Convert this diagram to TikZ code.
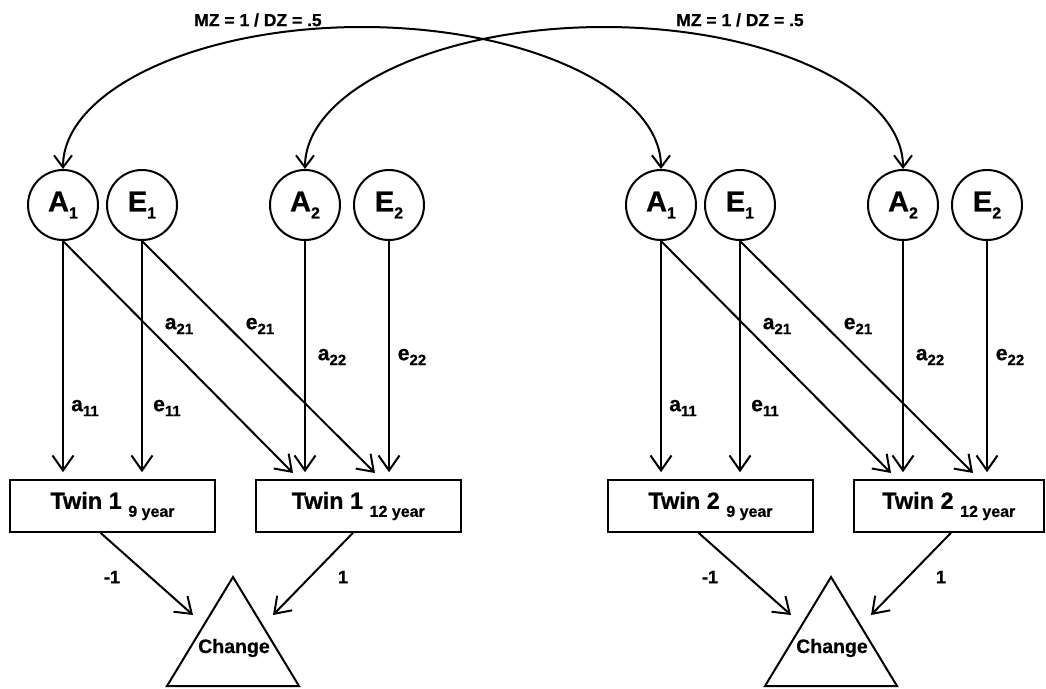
\documentclass[tikz,border=0pt]{standalone}
\usepackage{fontspec}
\setmainfont[BoldFeatures={FakeBold=0.6}]{Liberation Sans}
\usetikzlibrary{arrows.meta,calc}
\newcommand{\fs}[1]{\fontsize{#1}{#1}\selectfont}
\newcommand{\lowsub}[3]{\raisebox{-#1pt}{\fs{#2}#3}}
\tikzset{
  lat/.style={draw, circle, line width=2pt, minimum size=70pt, inner sep=0pt, font=\bfseries\fs{29}},
  obs/.style={draw, rectangle, line width=1.6pt, minimum height=52pt, inner sep=0pt, font=\bfseries\fs{23.5}},
  arr/.style={line width=2pt, -{Straight Barb[length=15pt,width=21pt,line width=2pt]}},
  dbl/.style={line width=2pt, {Straight Barb[length=12pt,width=18pt,line width=2pt]}-{Straight Barb[length=12pt,width=18pt,line width=2pt]}},
  lbl/.style={inner sep=0pt, font=\bfseries\fs{21}},
  num/.style={inner sep=0pt, font=\bfseries\fs{18}},
  top/.style={inner sep=0pt, font=\bfseries\fs{17.5}},
  chg/.style={inner sep=0pt, font=\bfseries\fs{19.5}},
  tri/.style={line width=2pt, line join=miter},
}
% #1 prefix, #2 xshift, #3 twin number, #4 width of second box
\newcommand{\twinhalf}[4]{%
\begin{scope}[xshift=#2pt]
  \node[lat] (#1A1) at (63,205) {A\lowsub{7}{16}{1}};
  \node[lat] (#1E1) at (142,205) {E\lowsub{7}{16}{1}};
  \node[lat] (#1A2) at (305,205) {A\lowsub{7}{16}{2}};
  \node[lat] (#1E2) at (389,205) {E\lowsub{7}{16}{2}};
  \node[obs, minimum width=205pt] (#1b1) at (112.5,506) {Twin #3 \lowsub{8}{16}{9 year}};
  \node[obs, minimum width=#4pt, anchor=west] (#1b2) at (255,506) {Twin #3 \lowsub{8}{16}{12 year}};
  \coordinate (#1ta) at (293,473);
  \coordinate (#1te) at (375,473);
  \draw[arr, shorten >=7pt] (#1A1.south) -- (#1A1.south |- #1b1.north);
  \draw[arr, shorten >=7pt] (#1E1.south) -- (#1E1.south |- #1b1.north);
  \draw[arr, shorten >=7pt] (#1A2.south) -- (#1A2.south |- #1b2.north);
  \draw[arr, shorten >=7pt] (#1E2.south) -- (#1E2.south |- #1b2.north);
  \draw[arr] (#1A1.south) -- (#1ta);
  \draw[arr] (#1E1.south) -- (#1te);
  \node[lbl] (#1la11) at (85,408) {a\lowsub{5}{15}{11}};
  \node[lbl] (#1le11) at (167,408) {e\lowsub{5}{15}{11}};
  \node[lbl] (#1la21) at (179,326) {a\lowsub{5}{15}{21}};
  \node[lbl] (#1le21) at (260,326) {e\lowsub{5}{15}{21}};
  \node[lbl] (#1la22) at (332,357) {a\lowsub{5}{15}{22}};
  \node[lbl] (#1le22) at (412,357) {e\lowsub{5}{15}{22}};
  \coordinate (#1tp) at (233,577);
  \coordinate (#1tl) at (167,686);
  \coordinate (#1tr) at (299,686);
  \draw[tri] (#1tp) -- (#1tl) -- (#1tr) -- cycle;
  \node[chg] (#1chg) at (234,648) {Change};
  \coordinate (#1ca) at (193,615);
  \coordinate (#1cb) at (273,615);
  \draw[arr] ([xshift=-12pt]#1b1.south) -- (#1ca);
  \draw[arr] ([xshift=98pt]#1b2.south west) -- (#1cb);
  \node[num] (#1m1) at (112,577) {-1};
  \node[num] (#1p1) at (343,577) {1};
\end{scope}}
\begin{document}
\begin{tikzpicture}[x=1pt, y=-1pt]
  \fill[white] (0,0) rectangle (1046,688);
  \useasboundingbox (0,0) rectangle (1046,688);
  \twinhalf{L}{0}{1}{205}
  \twinhalf{R}{598}{2}{190}
  \node[top] (mz1) at (258,20) {MZ = 1 / DZ = .5};
  \node[top] (mz2) at (740,20) {MZ = 1 / DZ = .5};
  \coordinate (peak1) at ($(LA1.north)!0.5!(RA1.north) + (0,-142)$);
  \coordinate (peak2) at ($(LA2.north)!0.5!(RA2.north) + (0,-142)$);
  \draw[dbl] (LA1.north) .. controls +(0,-78) and +(-166,0) .. (peak1)
                         .. controls +(166,0) and +(0,-78) .. (RA1.north);
  \draw[dbl] (LA2.north) .. controls +(0,-78) and +(-166,0) .. (peak2)
                         .. controls +(166,0) and +(0,-78) .. (RA2.north);
\end{tikzpicture}
\end{document}
